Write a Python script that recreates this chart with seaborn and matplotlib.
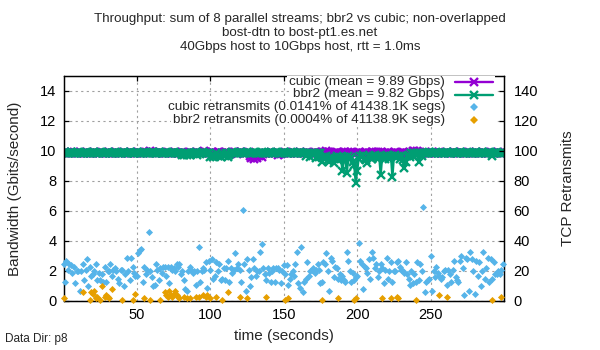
import numpy as np
import matplotlib
matplotlib.use("Agg")
import matplotlib.pyplot as plt
import matplotlib.lines as mlines
import matplotlib.patches as mpatches
import seaborn as sns

# ----------------------------------------------------------------------------
# data
# ----------------------------------------------------------------------------
time_s = np.arange(0, 300)

cubic_gbps = [
    9.90, 9.91, 9.89, 9.90, 9.90, 9.91, 9.90, 9.96, 9.90, 9.89, 9.90, 9.91, 9.90, 9.90, 9.89, 9.90, 9.91, 9.90, 9.90, 9.89,
    9.90, 9.91, 9.90, 9.89, 9.90, 9.90, 9.91, 9.90, 9.89, 9.90, 9.90, 9.91, 9.90, 9.90, 9.89, 9.90, 9.91, 9.90, 9.90, 9.89,
    9.90, 9.91, 9.90, 9.89, 9.90, 9.90, 9.91, 9.90, 9.89, 9.90, 9.90, 9.91, 9.90, 9.90, 9.89, 9.90, 9.91, 9.90, 9.95, 9.97,
    9.96, 9.91, 9.90, 9.89, 9.90, 9.90, 9.91, 9.90, 9.89, 9.90, 9.90, 9.91, 9.90, 9.90, 9.89, 9.90, 9.91, 9.90, 9.90, 9.89,
    9.90, 9.91, 9.90, 9.89, 9.90, 9.90, 9.91, 9.90, 9.89, 9.90, 9.90, 9.91, 9.90, 9.90, 9.89, 9.96, 9.97, 9.95, 9.90, 9.89,
    9.90, 9.91, 9.90, 9.89, 9.90, 9.96, 9.95, 9.84, 9.89, 9.90, 9.90, 9.91, 9.90, 9.90, 9.89, 9.90, 9.91, 9.96, 9.82, 9.86,
    9.95, 9.91, 9.90, 9.89, 9.90, 9.90, 9.91, 9.66, 9.55, 9.62, 9.50, 9.58, 9.53, 9.70, 9.74, 9.60, 9.80, 9.90, 9.89, 9.90,
    9.90, 9.91, 9.90, 9.89, 9.90, 9.90, 9.76, 9.80, 9.78, 9.90, 9.90, 9.91, 9.90, 9.90, 9.89, 9.90, 9.91, 9.90, 9.90, 9.89,
    9.90, 9.91, 9.90, 9.89, 9.90, 9.90, 9.91, 9.90, 9.89, 9.90, 9.90, 9.91, 9.90, 9.90, 9.89, 9.90, 9.91, 9.96, 9.85, 9.97,
    9.95, 9.91, 9.90, 9.89, 9.90, 9.90, 9.91, 9.90, 9.89, 9.90, 9.90, 9.91, 9.96, 9.83, 9.95, 9.90, 9.91, 9.90, 9.90, 9.89,
    9.90, 9.91, 9.90, 9.89, 9.90, 9.90, 9.91, 9.90, 9.89, 9.90, 9.94, 9.96, 9.84, 9.94, 9.95, 9.90, 9.91, 9.90, 9.90, 9.89,
    9.90, 9.91, 9.90, 9.89, 9.90, 9.90, 9.91, 9.90, 9.89, 9.90, 9.90, 9.91, 9.90, 9.90, 9.89, 9.90, 9.91, 9.90, 9.97, 9.98,
    9.85, 9.97, 9.90, 9.96, 9.90, 9.90, 9.91, 9.90, 9.89, 9.90, 9.90, 9.91, 9.90, 9.90, 9.89, 9.90, 9.91, 9.90, 9.90, 9.89,
    9.90, 9.91, 9.90, 9.89, 9.90, 9.90, 9.91, 9.90, 9.89, 9.90, 9.90, 9.91, 9.90, 9.90, 9.89, 9.90, 9.91, 9.90, 9.90, 9.89,
    9.90, 9.91, 9.90, 9.89, 9.90, 9.90, 9.91, 9.90, 9.89, 9.90, 9.90, 9.91, 9.90, 9.90, 9.89, 9.90, 9.91, 9.90, 9.90, 9.89,
]

bbr2_gbps = [
    9.90, 9.91, 9.90, 9.89, 9.90, 9.91, 9.90, 9.90, 9.89, 9.90, 9.91, 9.90, 9.90, 9.89, 9.90, 9.91, 9.90, 9.90, 9.89, 9.90,
    9.90, 9.91, 9.90, 9.89, 9.90, 9.91, 9.90, 9.90, 9.89, 9.90, 9.91, 9.90, 9.90, 9.89, 9.90, 9.91, 9.90, 9.90, 9.89, 9.90,
    9.90, 9.91, 9.90, 9.89, 9.90, 9.91, 9.90, 9.90, 9.89, 9.90, 9.91, 9.90, 9.90, 9.89, 9.90, 9.91, 9.90, 9.90, 9.89, 9.90,
    9.90, 9.91, 9.90, 9.89, 9.90, 9.91, 9.90, 9.90, 9.89, 9.90, 9.91, 9.90, 9.90, 9.89, 9.90, 9.91, 9.90, 9.90, 9.89, 9.90,
    9.90, 9.75, 9.76, 9.90, 9.74, 9.90, 9.76, 9.90, 9.89, 9.90, 9.91, 9.75, 9.90, 9.77, 9.90, 9.91, 9.90, 9.90, 9.89, 9.90,
    9.62, 9.75, 9.58, 9.70, 9.90, 9.66, 9.72, 9.60, 9.90, 9.74, 9.68, 9.90, 9.62, 9.75, 9.90, 9.91, 9.90, 9.90, 9.89, 9.90,
    9.90, 9.91, 9.90, 9.89, 9.90, 9.91, 9.90, 9.90, 9.89, 9.90, 9.91, 9.90, 9.90, 9.89, 9.90, 9.91, 9.90, 9.90, 9.89, 9.90,
    9.90, 9.91, 9.90, 9.89, 9.90, 9.91, 9.90, 9.90, 9.89, 9.90, 9.91, 9.90, 9.90, 9.89, 9.90, 9.91, 9.90, 9.90, 9.89, 9.90,
    9.90, 9.91, 9.90, 9.89, 9.90, 9.70, 9.90, 9.89, 9.62, 9.90, 9.75, 9.90, 9.52, 9.90, 9.60, 9.89, 9.30, 9.62, 9.48, 9.70,
    9.42, 9.30, 9.60, 9.50, 9.20, 9.55, 9.70, 9.40, 9.60, 9.50, 8.65, 9.60, 9.42, 8.55, 9.70, 9.50, 9.62, 9.30, 9.05, 7.90,
    8.65, 9.50, 9.70, 9.60, 9.75, 9.50, 9.40, 9.20, 9.60, 9.70, 9.50, 9.65, 9.75, 9.60, 9.50, 9.70, 8.40, 9.60, 9.70, 9.50,
    9.75, 9.60, 9.50, 9.70, 8.25, 9.65, 9.75, 9.60, 9.70, 9.50, 9.70, 9.40, 8.85, 9.30, 9.70, 9.75, 9.60, 9.90, 9.70, 9.90,
    9.75, 9.90, 9.25, 9.90, 9.70, 9.90, 9.90, 9.89, 9.90, 9.91, 9.90, 9.90, 9.89, 9.90, 9.91, 9.90, 9.90, 9.89, 9.90, 9.90,
    9.90, 9.91, 9.90, 9.89, 9.90, 9.91, 9.90, 9.90, 9.89, 9.90, 9.91, 9.90, 9.90, 9.89, 9.90, 9.91, 9.90, 9.90, 9.89, 9.90,
    9.90, 9.91, 9.90, 9.89, 9.90, 9.91, 9.90, 9.90, 9.89, 9.90, 9.91, 9.90, 9.70, 9.89, 9.90, 9.91, 9.90, 9.90, 9.89, 9.90,
]

cubic_retrans = [
    25, 13, 27, 21, 25, 24, 19, 23, 12, 20, 20, 7, 20, 25, 14, 21, 28, 10, 23, 17,
    18, 20, 25, 14, 19, 14, 18, 13, 23, 13, 20, 20, 25, 17, 21, 22, 20, 15, 12, 21,
    21, 10, 18, 29, 20, 14, 29, 23, 19, 17, 17, 32, 34, 35, 13, 23, 18, 21, 46, 20,
    16, 10, 11, 25, 21, 14, 22, 19, 23, 23, 17, 23, 12, 23, 21, 22, 20, 25, 23, 25,
    18, 20, 14, 8, 7, 20, 23, 21, 19, 20, 11, 20, 36, 13, 20, 22, 21, 26, 9, 27,
    21, 28, 15, 17, 26, 20, 25, 14, 15, 22, 14, 22, 27, 13, 22, 19, 21, 32, 22, 25,
    21, 13, 61, 25, 7, 28, 21, 10, 16, 28, 22, 17, 20, 20, 33, 38, 22, 18, 14, 22,
    19, 13, 20, 22, 13, 22, 22, 21, 12, 20, 24, 18, 24, 11, 15, 18, 20, 17, 25, 33,
    12, 9, 36, 6, 13, 15, 26, 17, 20, 21, 22, 19, 21, 25, 21, 12, 13, 26, 25, 32,
    20, 7, 29, 27, 16, 23, 22, 15, 18, 14, 17, 14, 13, 33, 27, 20, 13, 19, 14, 16,
    17, 39, 27, 25, 8, 23, 22, 19, 28, 15, 33, 29, 22, 25, 16, 20, 25, 22, 12, 21,
    29, 15, 20, 26, 13, 20, 20, 26, 27, 23, 21, 20, 19, 26, 18, 15, 11, 20, 12, 18,
    13, 26, 14, 25, 20, 63, 6, 13, 14, 15, 30, 7, 20, 16, 23, 19, 17, 15, 16, 20,
    21, 11, 21, 18, 13, 21, 27, 16, 14, 13, 27, 30, 22, 4, 29, 28, 7, 33, 28, 20,
    5, 27, 17, 26, 10, 20, 33, 15, 22, 29, 13, 28, 15, 26, 18, 18, 20, 18, 21, 25,
]

bbr2_retrans = [
    2, 0, 0, 0, 0, 0, 0, 0, 0, 0, 0, 0, 0, 6, 0, 0, 0, 0, 1, 6,
    5, 7, 2, 3, 0, 1, 10, 0, 3, 4, 3, 2, 0, 8, 0, 0, 0, 0, 0, 0,
    1, 0, 0, 0, 0, 0, 0, 1, 0, 5, 0, 0, 0, 0, 0, 2, 0, 0, 0, 1,
    0, 0, 0, 0, 0, 0, 1, 0, 0, 6, 4, 3, 7, 4, 3, 5, 7, 4, 3, 2,
    0, 0, 3, 0, 2, 0, 2, 0, 0, 0, 3, 0, 3, 0, 0, 4, 0, 3, 4, 0,
    2, 0, 0, 0, 3, 0, 0, 0, 1, 0, 0, 0, 6, 0, 0, 0, 0, 0, 0, 0,
    3, 0, 0, 0, 0, 2, 0, 0, 0, 0, 0, 0, 0, 0, 0, 0, 0, 0, 3, 0,
    0, 0, 0, 0, 0, 0, 0, 0, 0, 0, 0, 1, 0, 2, 0, 0, 0, 0, 0, 0,
    0, 0, 0, 0, 0, 0, 0, 0, 0, 0, 0, 0, 0, 0, 0, 0, 1, 0, 0, 0,
    0, 0, 0, 0, 0, 0, 0, 2, 0, 0, 0, 0, 0, 0, 0, 0, 0, 0, 1, 2,
    0, 0, 0, 0, 0, 0, 0, 0, 0, 0, 0, 0, 0, 0, 0, 0, 0, 2, 0, 0,
    0, 0, 0, 2, 0, 0, 0, 3, 2, 0, 0, 0, 0, 0, 0, 0, 0, 0, 0, 0,
    1, 0, 0, 0, 0, 0, 0, 0, 0, 0, 0, 0, 0, 0, 0, 0, 4, 0, 0, 0,
    0, 3, 0, 0, 0, 0, 0, 0, 0, 0, 0, 0, 0, 0, 0, 0, 0, 0, 0, 0,
    0, 0, 0, 0, 0, 0, 0, 0, 0, 0, 0, 0, 1, 0, 0, 0, 0, 0, 3, 0,
]

legend_labels = [
    "cubic (mean = 9.89 Gbps)",
    "bbr2 (mean = 9.82 Gbps)",
    "cubic retransmits (0.0141% of 41438.1K segs)",
    "bbr2 retransmits (0.0004% of 41138.9K segs)",
]
title_lines = [
    "Throughput: sum of 8 parallel streams; bbr2 vs cubic; non-overlapped",
    "bost-dtn to bost-pt1.es.net",
    "40Gbps host to 10Gbps host, rtt = 1.0ms",
]

# ----------------------------------------------------------------------------
# style
# ----------------------------------------------------------------------------
sns.set_style("white")
plt.rcParams["font.family"] = ["Liberation Sans", "DejaVu Sans"]

purple = "#9400d3"
green = "#009e73"
blue = "#56b4e9"
orange = "#e69f00"

W, H = 600, 350
fig = plt.figure(figsize=(6, 3.5), dpi=100)
ax = fig.add_axes([63.5 / W, 49 / H, 440.5 / W, 225 / H])
ax2 = ax.twinx()

# ----------------------------------------------------------------------------
# plot
# ----------------------------------------------------------------------------
line_kw = dict(marker="x", markersize=6.2, markeredgewidth=1.7, linewidth=1.7)
sns.lineplot(x=time_s, y=cubic_gbps, ax=ax, color=purple, markeredgecolor=purple, **line_kw)
sns.lineplot(x=time_s, y=bbr2_gbps, ax=ax, color=green, markeredgecolor=green, **line_kw)

cr = np.array(cubic_retrans)
br = np.array(bbr2_retrans)
sns.scatterplot(x=time_s[cr > 0], y=cr[cr > 0], ax=ax2, color=blue, marker="D",
                s=13, linewidth=0, clip_on=False, zorder=3)
sns.scatterplot(x=time_s[br > 0], y=br[br > 0], ax=ax2, color=orange, marker="D",
                s=13, linewidth=0, clip_on=False, zorder=4)

ax.set_xlim(0, 300)
ax.set_ylim(0, 15)
ax2.set_ylim(0, 150)
ax.set_xticks([50, 100, 150, 200, 250])
ax.set_yticks(range(0, 15, 2))
ax2.set_yticks(range(0, 141, 20))

ax.grid(True, color="#a0a0a0", linestyle=(0, (2, 3)), linewidth=0.8)
ax.set_axisbelow(True)
ax2.grid(False)

for a in (ax, ax2):
    for sp in a.spines.values():
        sp.set_color("black")
        sp.set_linewidth(0.9)
ax.tick_params(axis="both", direction="in", length=3.5, width=0.9,
               labelsize=10.5, colors="black", top=True, right=False)
ax.tick_params(axis="x", pad=5)
ax.tick_params(axis="y", pad=5)
ax2.tick_params(axis="y", direction="in", length=3.5, width=0.9,
                labelsize=10.5, pad=7, colors="black")

ax.set_xlabel("time (seconds)", fontsize=11)
ax.xaxis.set_label_coords(0.5, -0.125)
ax.set_ylabel("Bandwidth (Gbits/second)", fontsize=11)
ax.yaxis.set_label_coords(-0.094, 0.5)
ax2.set_ylabel("TCP Retransmits", fontsize=11)
ax2.yaxis.set_label_coords(1.13, 0.5)

# title, three centred lines
for txt, ypx in zip(title_lines, [19, 33, 47]):
    fig.text(0.5, 1 - ypx / H, txt, ha="center", va="center", fontsize=9.6)

fig.text(5 / W, 1 - 339 / H, "Data Dir: p8", ha="left", va="center", fontsize=8.5)

# legend, gnuplot style: text right-aligned, sample on the right, opaque rows
rows = [82, 94.5, 107, 119.5]
row_h = 12.5
samples = [
    dict(color=purple, marker="x", ls="-", lw=1.7, ms=6.2, mew=1.7),
    dict(color=green, marker="x", ls="-", lw=1.7, ms=6.2, mew=1.7),
    dict(color=blue, marker="D", ls="none", ms=3.6, mew=0),
    dict(color=orange, marker="D", ls="none", ms=3.6, mew=0),
]
renderer = fig.canvas.get_renderer()
for lab, ypx, st in zip(legend_labels, rows, samples):
    yf = 1 - ypx / H
    t = fig.text(445 / W, yf, lab, ha="right", va="center", fontsize=9.7, zorder=5)
    x0 = t.get_window_extent(renderer).x0 - 2
    fig.add_artist(mpatches.Rectangle((x0 / W, 1 - (ypx + row_h / 2) / H),
                                      (495 - x0) / W, row_h / H,
                                      facecolor="white", edgecolor="none",
                                      transform=fig.transFigure, zorder=1))
    if st["ls"] == "-":
        fig.add_artist(mlines.Line2D([455 / W, 493 / W], [yf, yf], color=st["color"],
                                     lw=st["lw"], transform=fig.transFigure, zorder=4))
    fig.add_artist(mlines.Line2D([474 / W], [yf], color=st["color"], marker=st["marker"],
                                 ls="none", ms=st["ms"], mew=st["mew"],
                                 transform=fig.transFigure, zorder=4))

fig.savefig("out.png", dpi=100)
